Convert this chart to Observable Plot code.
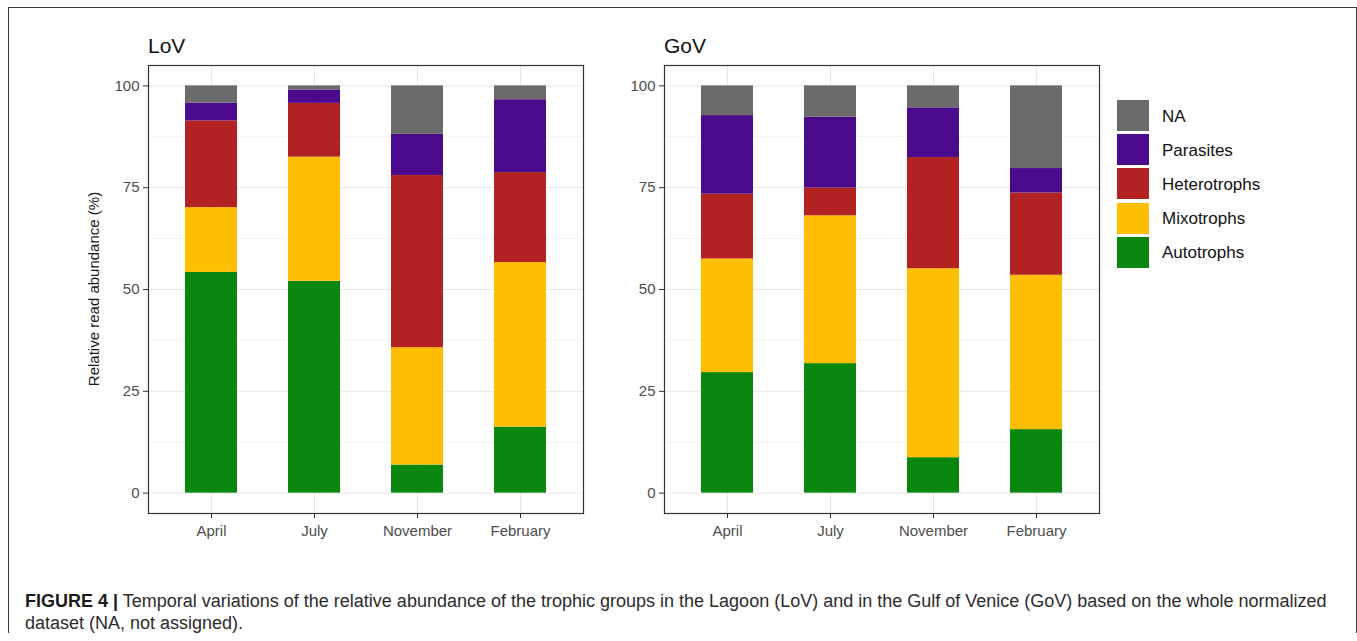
<!DOCTYPE html>
<html>
<head>
<meta charset="utf-8">
<script src="https://cdn.jsdelivr.net/npm/d3@7"></script>
<script src="https://cdn.jsdelivr.net/npm/@observablehq/plot@0.6"></script>
<style>
  body { margin: 0; background: #fff; font-family: "Liberation Sans", Arial, Helvetica, sans-serif; }
  #fig { position: relative; width: 1357px; height: 641px; overflow: hidden; background: #fff; }
  .abs { position: absolute; white-space: nowrap; }
  .box { left: 8px; top: 7px; width: 1347px; height: 625px; border: 1px solid #3a3a3a; border-bottom: none; }
  .title { font-size: 21px; line-height: 21px; color: #111; }
  .ylab { font-size: 15px; line-height: 15px; color: #1a1a1a; transform: translate(-50%, -50%) rotate(-90deg); }
  .key { width: 32px; height: 31px; }
  .keylab { font-size: 17px; line-height: 17px; color: #111; transform: translateY(-50%); }
  .caption { left: 25px; top: 590px; font-size: 18px; line-height: 22px; color: #2b2b2b; }
  .caption b { color: #1a1a1a; }
</style>
</head>
<body>
<div id="fig">
  <div class="abs box"></div>
  <div class="abs title" style="left:148px; top:35px;">LoV</div>
  <div class="abs title" style="left:664px; top:35px;">GoV</div>
  <div class="abs ylab" style="left:93px; top:289px;">Relative read abundance (%)</div>
  <div id="lov" class="abs" style="left:0px; top:60px;"></div>
  <div id="gov" class="abs" style="left:604px; top:60px;"></div>
  <div id="legend"></div>
  <div class="abs caption"><b>FIGURE 4 |</b> Temporal variations of the relative abundance of the trophic groups in the Lagoon (LoV) and in the Gulf of Venice (GoV) based on the whole normalized<br>dataset (NA, not assigned).</div>
</div>
<script>
// Sampling months, in survey order
const months = ["April", "July", "November", "February"];

// Trophic groups from the bottom of each stack to the top
const groups = ["Autotrophs", "Mixotrophs", "Heterotrophs", "Parasites", "NA"];
const groupColors = ["#0a870f", "#ffbf00", "#b22222", "#4b0a8c", "#6b6b6b"];

// Relative read abundance (%) per month, Lagoon of Venice
const lovAutotrophs   = [54.2, 52.0, 6.9, 16.2];
const lovMixotrophs   = [15.9, 30.5, 28.8, 40.4];
const lovHeterotrophs = [21.3, 13.2, 42.3, 22.1];
const lovParasites    = [4.4, 3.3, 10.1, 17.9];
const lovNA           = [4.2, 1.0, 11.9, 3.4];

// Relative read abundance (%) per month, Gulf of Venice
const govAutotrophs   = [29.6, 31.8, 8.7, 15.6];
const govMixotrophs   = [27.9, 36.3, 46.4, 37.9];
const govHeterotrophs = [15.9, 6.8, 27.3, 20.2];
const govParasites    = [19.3, 17.4, 12.2, 6.0];
const govNA           = [7.3, 7.7, 5.4, 20.3];

// Axis ticks
const yTicks = [0, 25, 50, 75, 100];
const yMinor = [12.5, 37.5, 62.5, 87.5];

function rows(series) {
  const out = [];
  months.forEach((m, i) => {
    groups.forEach((g, j) => out.push({ month: m, group: g, value: series[j][i] }));
  });
  return out;
}

const lovRows = rows([lovAutotrophs, lovMixotrophs, lovHeterotrophs, lovParasites, lovNA]);
const govRows = rows([govAutotrophs, govMixotrophs, govHeterotrophs, govParasites, govNA]);

function panel(data, marginLeft) {
  return Plot.plot({
    width: marginLeft + 435 + 7,
    height: 485,
    marginLeft,
    marginRight: 7,
    marginTop: 5,
    marginBottom: 32,
    style: { fontFamily: "'Liberation Sans', Arial, sans-serif", background: "transparent", overflow: "visible" },
    x: { domain: months, paddingInner: 0.5, paddingOuter: 0.35, axis: null },
    y: { domain: [-5, 105], axis: null },
    color: { domain: groups, range: groupColors },
    marks: [
      Plot.ruleY(yMinor, { stroke: "#f3f3f3", strokeWidth: 1 }),
      Plot.ruleY(yTicks, { stroke: "#e6e6e6", strokeWidth: 1 }),
      Plot.gridX(months, { stroke: "#e6e6e6", strokeOpacity: 1, strokeWidth: 1 }),
      Plot.barY(data, Plot.stackY({ x: "month", y: "value", fill: "group", order: groups })),
      Plot.axisY(yTicks, { tickSize: 5, tickPadding: 4, fontSize: 15, fill: "#4d4d4d", stroke: "#333", label: null }),
      Plot.axisX(months, { tickSize: 5, tickPadding: 7, fontSize: 15, fill: "#4d4d4d", stroke: "#333", label: null }),
      Plot.frame({ stroke: "#333", strokeWidth: 1.2 })
    ]
  });
}

document.getElementById("lov").appendChild(panel(lovRows, 148));
document.getElementById("gov").appendChild(panel(govRows, 60));

// Legend, top entry first as in the stack
const legend = document.getElementById("legend");
const order = groups.slice().reverse();
order.forEach((g, i) => {
  const top = 100 + i * 34.2;
  const key = document.createElement("div");
  key.className = "abs key";
  key.style.left = "1117px";
  key.style.top = top + "px";
  key.style.background = groupColors[groups.indexOf(g)];
  legend.appendChild(key);
  const lab = document.createElement("div");
  lab.className = "abs keylab";
  lab.style.left = "1162px";
  lab.style.top = (top + 15.5) + "px";
  lab.textContent = g;
  legend.appendChild(lab);
});
</script>
</body>
</html>
